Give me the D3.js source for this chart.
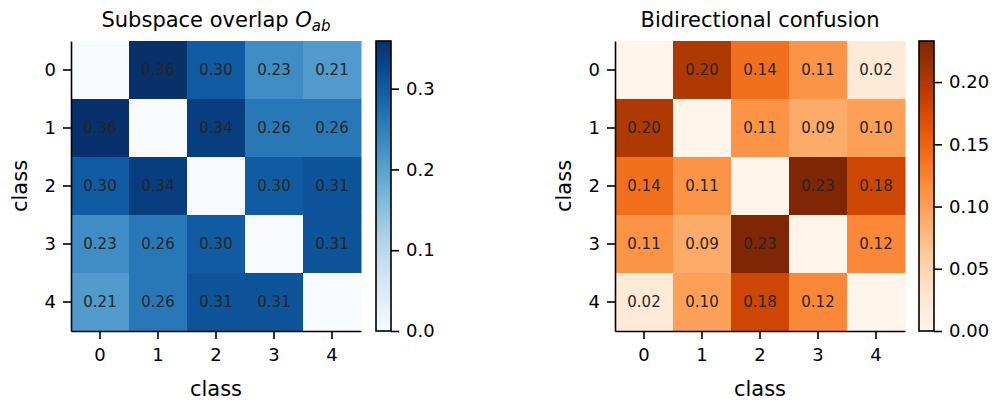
<!DOCTYPE html>
<html>
<head>
<meta charset="utf-8">
<script src="https://cdn.jsdelivr.net/npm/d3@7"></script>
<style>
body { margin: 0; background: #fff; }
text { font-family: "DejaVu Sans", sans-serif; }
</style>
</head>
<body>
<script>
const width = 998
const height = 404

const classes = [0, 1, 2, 3, 4]

// subspace overlap (symmetric, diagonal 0)
const overlap = [
  [0.00, 0.359, 0.30, 0.23, 0.21],
  [0.359, 0.00, 0.34, 0.26, 0.26],
  [0.30, 0.34, 0.00, 0.30, 0.31],
  [0.23, 0.26, 0.30, 0.00, 0.31],
  [0.21, 0.26, 0.31, 0.31, 0.00]
]
// bidirectional confusion
const confusion = [
  [0.00, 0.20, 0.14, 0.11, 0.02],
  [0.20, 0.00, 0.11, 0.09, 0.10],
  [0.14, 0.11, 0.00, 0.233, 0.18],
  [0.11, 0.09, 0.233, 0.00, 0.12],
  [0.02, 0.10, 0.18, 0.12, 0.00]
]
const overlapTicks = [0.0, 0.1, 0.2, 0.3]
const confusionTicks = [0.00, 0.05, 0.10, 0.15, 0.20]

const svg = d3.select('body').append('svg')
  .attr('width', width)
  .attr('height', height)

const defs = svg.append('defs')

function heatmap(opts) {
  const {left, top, size, data, interp, ticks, tickFmt, title, titleMath, cbX, id, ylabX} = opts
  const g = svg.append('g')
  const vmax = d3.max(data.flat())
  const color = d3.scaleSequential(interp).domain([0, vmax])
  const x = d3.scaleBand().domain(classes).range([left, left + size])
  const y = d3.scaleBand().domain(classes).range([top, top + size])

  const cells = []
  data.forEach((row, i) => row.forEach((v, j) => cells.push({i, j, v})))

  g.selectAll('rect.cell')
    .data(cells)
    .join('rect')
    .attr('class', 'cell')
    .attr('x', d => x(d.j))
    .attr('y', d => y(d.i))
    .attr('width', x.bandwidth() + 0.5)
    .attr('height', y.bandwidth() + 0.5)
    .attr('fill', d => color(d.v))

  g.selectAll('text.val')
    .data(cells.filter(d => d.i !== d.j))
    .join('text')
    .attr('class', 'val')
    .attr('x', d => x(d.j) + x.bandwidth() / 2)
    .attr('y', d => y(d.i) + y.bandwidth() / 2)
    .attr('text-anchor', 'middle')
    .attr('dominant-baseline', 'central')
    .attr('font-size', 15)
    .attr('fill', '#262626')
    .text(d => d3.format('.2f')(d.v))

  // axes
  const xAxis = d3.axisBottom(x).tickSize(8).tickSizeOuter(0).tickPadding(6)
  const yAxis = d3.axisLeft(y).tickSize(8).tickSizeOuter(0).tickPadding(7)
  const gx = g.append('g').attr('transform', `translate(0,${top + size})`).call(xAxis)
  const gy = g.append('g').attr('transform', `translate(${left},0)`).call(yAxis)
  for (const a of [gx, gy]) {
    a.select('.domain').attr('stroke', '#000').attr('stroke-width', 1.6)
    a.selectAll('.tick line').attr('stroke', '#000').attr('stroke-width', 1.6)
    a.selectAll('.tick text').attr('font-size', 18).attr('fill', '#000')
      .attr('font-family', '"DejaVu Sans", sans-serif')
  }
  gx.selectAll('.tick text').attr('dy', '0.9em')

  g.append('text')
    .attr('x', left + size / 2)
    .attr('y', 396)
    .attr('text-anchor', 'middle')
    .attr('font-size', 21)
    .text('class')
  g.append('text')
    .attr('transform', `translate(${ylabX},${top + size / 2}) rotate(-90)`)
    .attr('text-anchor', 'middle')
    .attr('dominant-baseline', 'central')
    .attr('font-size', 21)
    .text('class')

  const t = g.append('text')
    .attr('x', left + size / 2)
    .attr('y', 27)
    .attr('text-anchor', 'middle')
    .attr('font-size', 21)
  t.append('tspan').text(title)
  if (titleMath) {
    t.append('tspan').text(' ')
    t.append('tspan').attr('font-style', 'italic').text(titleMath[0])
    t.append('tspan').attr('font-style', 'italic').attr('font-size', 15).attr('dy', 4).text(titleMath[1])
  }

  // colorbar
  const cbW = 15
  const grad = defs.append('linearGradient').attr('id', id)
    .attr('x1', 0).attr('y1', 1).attr('x2', 0).attr('y2', 0)
  d3.range(0, 1.0001, 0.02).forEach(s => {
    grad.append('stop').attr('offset', s).attr('stop-color', interp(s))
  })
  g.append('rect')
    .attr('x', cbX).attr('y', top)
    .attr('width', cbW).attr('height', size)
    .attr('fill', `url(#${id})`)
    .attr('stroke', '#000').attr('stroke-width', 1.6)
  const cbScale = d3.scaleLinear().domain([0, vmax]).range([top + size, top])
  const cbAxis = d3.axisRight(cbScale).tickValues(ticks).tickFormat(d3.format(tickFmt))
    .tickSize(8).tickPadding(7)
  const gc = g.append('g').attr('transform', `translate(${cbX + cbW},0)`).call(cbAxis)
  gc.select('.domain').remove()
  gc.selectAll('.tick line').attr('stroke', '#000').attr('stroke-width', 1.6)
  gc.selectAll('.tick text').attr('font-size', 18).attr('fill', '#000')
    .attr('font-family', '"DejaVu Sans", sans-serif')
}

heatmap({
  left: 71, top: 41, size: 290, data: overlap, interp: d3.interpolateBlues,
  ticks: overlapTicks, tickFmt: '.1f', title: 'Subspace overlap', titleMath: ['O', 'ab'],
  cbX: 376, id: 'gradBlues', ylabX: 20
})
heatmap({
  left: 615, top: 41, size: 290, data: confusion, interp: d3.interpolateOranges,
  ticks: confusionTicks, tickFmt: '.2f', title: 'Bidirectional confusion', titleMath: null,
  cbX: 919, id: 'gradOranges', ylabX: 564
})
</script>
</body>
</html>
